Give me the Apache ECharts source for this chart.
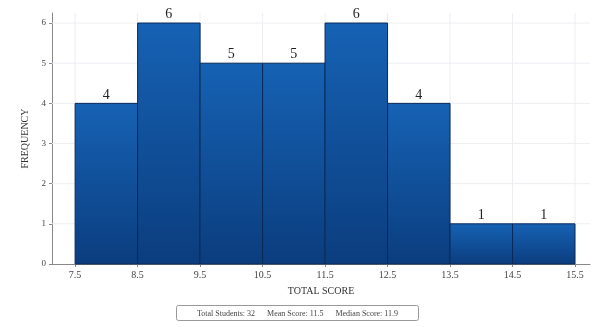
<!DOCTYPE html>
<html>
<head>
<meta charset="utf-8">
<script src="https://cdn.jsdelivr.net/npm/echarts@6/dist/echarts.min.js"></script>
<style>
  html, body { margin: 0; padding: 0; background: #fff; }
  #main { width: 595px; height: 327px; }
</style>
</head>
<body>
<div id="main"></div>
<script>
// bin edges and counts
var binStart = [7.5, 8.5, 9.5, 10.5, 11.5, 12.5, 13.5, 14.5];
var binEnd   = [8.5, 9.5, 10.5, 11.5, 12.5, 13.5, 14.5, 15.5];
var counts   = [4, 6, 5, 5, 6, 4, 1, 1];
var xTicks   = [7.5, 8.5, 9.5, 10.5, 11.5, 12.5, 13.5, 14.5, 15.5];
var yTicks   = [0, 1, 2, 3, 4, 5, 6];
var footer   = 'Total Students: 32      Mean Score: 11.5      Median Score: 11.9';

var data = [];
for (var i = 0; i < counts.length; i++) {
  data.push([binStart[i], binEnd[i], counts[i]]);
}

var chart = echarts.init(document.getElementById('main'));

var serif = 'Liberation Serif';

chart.setOption({
  animation: false,
  grid: { left: 52, right: 5, top: 13, bottom: 63 },
  xAxis: {
    type: 'value',
    min: 7.13,
    max: 15.74,
    name: 'TOTAL SCORE',
    nameLocation: 'middle',
    nameGap: 22,
    nameTextStyle: { fontFamily: serif, fontSize: 10, color: '#333' },
    axisLine: { show: true, lineStyle: { color: '#888', width: 1 } },
    axisTick: { show: true, customValues: xTicks, length: 3, lineStyle: { color: '#888' } },
    axisLabel: { customValues: xTicks, fontFamily: serif, fontSize: 10, color: '#444', margin: 6 },
    splitLine: { show: false }
  },
  yAxis: {
    type: 'value',
    min: 0,
    max: 6.25,
    name: 'FREQUENCY',
    nameLocation: 'middle',
    nameGap: 22,
    nameTextStyle: { fontFamily: serif, fontSize: 10, color: '#333' },
    axisLine: { show: true, lineStyle: { color: '#888', width: 1 } },
    axisTick: { show: true, customValues: yTicks, length: 3, lineStyle: { color: '#888' } },
    axisLabel: { customValues: yTicks, fontFamily: serif, fontSize: 9, color: '#444', margin: 6 },
    splitLine: { show: false }
  },
  graphic: [{
    type: 'group',
    left: 'center',
    top: 305,
    children: [{
      type: 'rect',
      shape: { x: 0, y: 0, width: 242, height: 15, r: 2 },
      style: { fill: '#fff', stroke: '#999', lineWidth: 1 }
    }, {
      type: 'text',
      x: 121, y: 8,
      style: {
        text: footer, fontFamily: serif, fontSize: 8, fill: '#444',
        align: 'center', verticalAlign: 'middle'
      }
    }]
  }],
  series: [{
    // faint grid lines
    type: 'custom',
    silent: true,
    z: 1,
    data: [0],
    renderItem: function (params, api) {
      var kids = [];
      var x0 = api.coord([7.13, 0])[0], x1 = api.coord([15.74, 0])[0];
      var yb = api.coord([0, 0])[1], yt = api.coord([0, 6.25])[1];
      for (var i = 0; i < xTicks.length; i++) {
        var x = api.coord([xTicks[i], 0])[0];
        kids.push({ type: 'line', shape: { x1: x, y1: yt, x2: x, y2: yb }, style: { stroke: '#eceef2', lineWidth: 1 } });
      }
      for (var j = 1; j < yTicks.length; j++) {
        var y = api.coord([0, yTicks[j]])[1];
        kids.push({ type: 'line', shape: { x1: x0, y1: y, x2: x1, y2: y }, style: { stroke: '#eceef2', lineWidth: 1 } });
      }
      return { type: 'group', children: kids };
    }
  }, {
    type: 'custom',
    z: 2,
    data: data,
    encode: { x: [0, 1], y: 2 },
    renderItem: function (params, api) {
      var p0 = api.coord([api.value(0), api.value(2)]);
      var p1 = api.coord([api.value(1), 0]);
      return {
        type: 'rect',
        shape: { x: p0[0], y: p0[1], width: p1[0] - p0[0], height: p1[1] - p0[1] },
        style: {
          fill: new echarts.graphic.LinearGradient(0, 0, 0, 1, [
            { offset: 0, color: '#1662b4' },
            { offset: 1, color: '#0b3d7e' }
          ]),
          stroke: '#0a2a58',
          lineWidth: 1,
          text: String(api.value(2)),
          textPosition: 'top',
          textDistance: 2,
          fontFamily: serif,
          fontSize: 14,
          textFill: '#222'
        },
        textContent: {
          style: { text: String(api.value(2)), fontFamily: serif, fontSize: 14, fill: '#222' }
        },
        textConfig: { position: 'top', distance: 1 }
      };
    }
  }]
});
</script>
</body>
</html>
